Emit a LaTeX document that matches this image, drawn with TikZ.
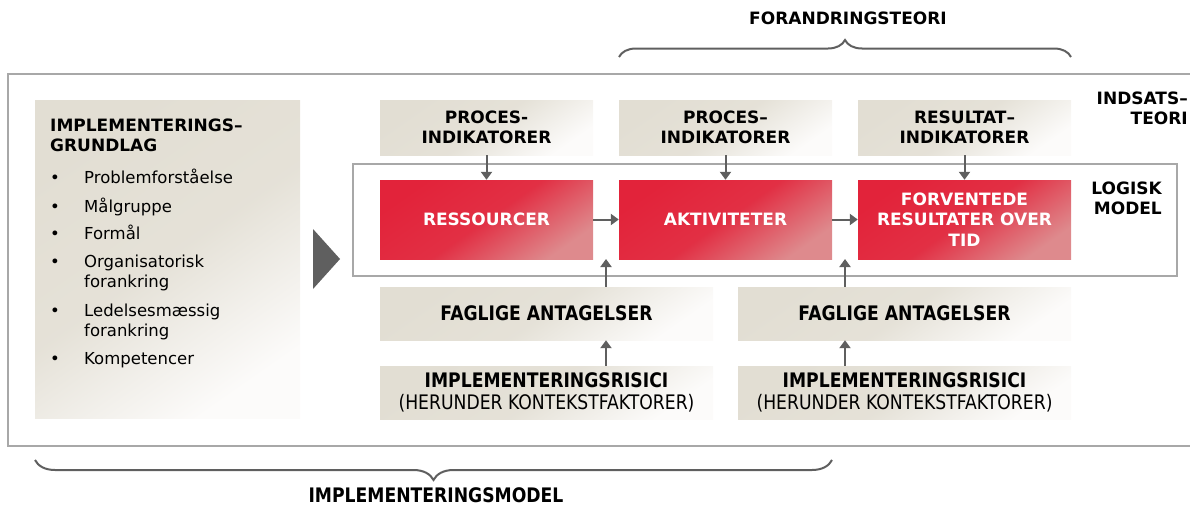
\documentclass[tikz,border=0pt]{standalone}
\usepackage{fontspec}
\setmainfont{DejaVu Sans}
\newfontfamily\condfont[FakeStretch=0.86]{DejaVu Sans}
\usepackage{tikz}
\usetikzlibrary{arrows.meta,decorations.pathreplacing}
\definecolor{boxbeige}{HTML}{E2DED3}
\definecolor{boxwhite}{HTML}{FCFBFA}
\definecolor{logred}{HTML}{E2233A}
\definecolor{logpink}{HTML}{DE8A8D}
\definecolor{arrgray}{HTML}{5F5F5F}
\definecolor{framegray}{HTML}{A8A8A8}
\newcommand{\boldtxt}{\fontsize{17}{19.5}\selectfont\bfseries}
\newcommand{\condtxt}{\condfont\fontsize{20}{22}\selectfont}

\begin{document}
\begin{tikzpicture}[x=1pt,y=-1pt,
  graybox/.style={top color=boxbeige,bottom color=boxwhite,
    middle color=boxbeige!88!boxwhite,shading angle=35,
    inner sep=0pt,align=center},
  redbox/.style={top color=logred,bottom color=logpink,
    middle color=logred!88!logpink,shading angle=35,
    inner sep=0pt,align=center,text=white,
    minimum width=213pt,minimum height=79pt,
    font=\fontsize{17}{20.5}\selectfont\bfseries},
  topbox/.style={graybox,minimum width=213pt,minimum height=55pt,font=\boldtxt},
  lowbox/.style={graybox,minimum width=333pt,minimum height=53pt},
  arr/.style={draw=arrgray,line width=2pt,-{Triangle[width=11pt,length=8pt]}},
  curly/.style={draw=arrgray,line width=2pt,decorate,
    decoration={brace,amplitude=#1}},
  lbl/.style={inner sep=0pt,font=\boldtxt},
  item/.style={inner sep=0pt,anchor=base west,align=left,
    font=\fontsize{16.5}{20}\selectfont}
  ]
\useasboundingbox (0,0) rectangle (1190,506);

% frames
\draw[framegray,line width=1.5pt] (1192,74) -- (8,74) -- (8,446) -- (1192,446);
\draw[framegray,line width=1.5pt] (353,164) rectangle (1177,276);

% implementeringsgrundlag
\node[graybox,minimum width=265pt,minimum height=318pt] (grundlag) at (167.5,259) {};
\node[lbl,anchor=base west,align=left] (gtitle) at (50,151) {IMPLEMENTERINGS–\\GRUNDLAG};
\node[item] (i1) at (84,183) {Problemforståelse};
\node[item] (i2) at (84,212) {Målgruppe};
\node[item] (i3) at (84,239) {Formål};
\node[item] (i4) at (84,287) {Organisatorisk\\forankring};
\node[item] (i5) at (84,336) {Ledelsesmæssig\\forankring};
\node[item] (i6) at (84,364) {Kompetencer};
\foreach \y in {183,212,239,267,316,364}
  \node[inner sep=0pt,anchor=base,font=\fontsize{16.5}{20}\selectfont] at (55,\y) {\textbullet};
\fill[arrgray] (313,229) -- (340,259) -- (313,289) -- cycle;

% indikatorer
\node[topbox] (pi1) at (486.5,127.5) {PROCES-\\INDIKATORER};
\node[topbox] (pi2) at (725.5,127.5) {PROCES–\\INDIKATORER};
\node[topbox] (ri) at (964.5,127.5) {RESULTAT–\\INDIKATORER};

% logisk model
\node[redbox] (res) at (486.5,219.5) {RESSOURCER};
\node[redbox] (akt) at (725.5,219.5) {AKTIVITETER};
\node[redbox] (forv) at (964.5,219.5) {FORVENTEDE\\RESULTATER OVER\\TID};

% antagelser og risici
\node[lowbox,font=\condtxt\bfseries] (fa1) at (546.5,313.5) {FAGLIGE ANTAGELSER};
\node[lowbox,font=\condtxt\bfseries] (fa2) at (904.5,313.5) {FAGLIGE ANTAGELSER};
\node[lowbox,font=\condtxt] (ir1) at (546.5,392.5) {\textbf{IMPLEMENTERINGSRISICI}\\(HERUNDER KONTEKSTFAKTORER)};
\node[lowbox,font=\condtxt] (ir2) at (904.5,392.5) {\textbf{IMPLEMENTERINGSRISICI}\\(HERUNDER KONTEKSTFAKTORER)};

% labels
\node[lbl,anchor=base east,align=right] (indsats) at (1188,124) {INDSATS–\\TEORI};
\node[lbl,anchor=base east,align=right] (logisk) at (1162,214) {LOGISK\\MODEL};
\node[lbl] (forandring) at (848,18) {FORANDRINGSTEORI};
\node[lbl,font=\condtxt\bfseries] (implmodel) at (436,495) {IMPLEMENTERINGSMODEL};

% arrows
\coordinate (up1) at (606,259);
\coordinate (up2) at (845,259);
\draw[arr] (pi1) -- (res);
\draw[arr] (pi2) -- (akt);
\draw[arr] (ri) -- (forv);
\draw[arr] (res) -- (akt);
\draw[arr] (akt) -- (forv);
\draw[arr] (fa1.north -| up1) -- (up1);
\draw[arr] (fa2.north -| up2) -- (up2);
\draw[arr] (ir1.north -| up1) -- (fa1.south -| up1);
\draw[arr] (ir2.north -| up2) -- (fa2.south -| up2);

% braces
\draw[curly=17pt] (619,57) -- (1071,57);
\draw[curly=20pt] (832,460) -- (35,460);
\end{tikzpicture}
\end{document}
